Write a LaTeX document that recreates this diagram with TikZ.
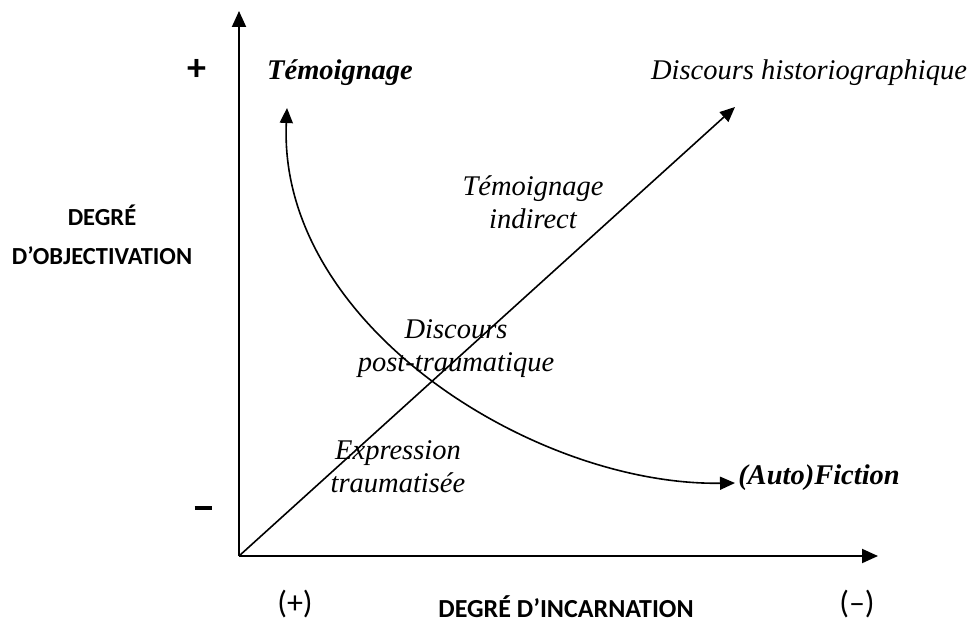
\documentclass[tikz,border=0pt]{standalone}
\usepackage{fontspec}
\setmainfont{Liberation Serif}
\newfontfamily\carlito{Carlito}
\usetikzlibrary{arrows.meta}
\tikzset{
  axisline/.style={line width=1.9pt, -{Triangle[length=16pt,width=14pt]}},
  flowline/.style={line width=1.6pt, -{Triangle[length=15pt,width=13pt]}},
  curveline/.style={line width=1.6pt, {Triangle[length=15pt,width=13pt]}-{Triangle[length=15pt,width=13pt]}},
  serif/.style={inner sep=0pt, align=center, font=\fontsize{28.5}{33}\selectfont\itshape},
  serifbold/.style={inner sep=0pt, font=\fontsize{28.5}{33}\selectfont\bfseries\itshape},
  sanslabel/.style={inner sep=0pt, align=center, font=\carlito\fontsize{24.5}{39}\selectfont\bfseries},
  incarnlabel/.style={inner sep=0pt, font=\carlito\fontsize{26}{30}\selectfont\bfseries},
  signlabel/.style={inner sep=0pt, font=\carlito\fontsize{32}{36}\selectfont},
  signbold/.style={inner sep=0pt, font=\carlito\fontsize{38}{40}\selectfont\bfseries}
}
\begin{document}
\begin{tikzpicture}[x=1pt,y=-1pt]
\useasboundingbox (0,0) rectangle (973,623);
% coordinates
\coordinate (o) at (239,556);
\coordinate (ytip) at (239,11);
\coordinate (xtip) at (878,556);
\coordinate (dtip) at (735,107);
\coordinate (cstart) at (287,108);
\coordinate (cend) at (735,483);
% axes
\draw[axisline] (o) -- (ytip);
\draw[axisline] (o) -- (xtip);
% diagonal
\draw[flowline] (o) -- (dtip);
% curve
\draw[curveline] (cend) .. controls (535,486) and (277,325) .. (cstart);
% labels
\node[signbold] (plus) at (197,70) {+};
\node (minus) at (203,508) {\rule{17pt}{3.4pt}};
\node[serifbold] (temoin) at (340,73) {Témoignage};
\node[serif] (hist) at (809,73) {Discours historiographique};
\node[serif] (indir) at (533,202) {Témoignage\\indirect};
\node[serif] (post) at (456,349) {Discours\\post-traumatique};
\node[serif] (expr) at (398,467) {Expression\\traumatisée};
\node[serifbold] (fict) at (819,478) {(Auto)Fiction};
\node[sanslabel] (objv) at (102,235) {DEGRÉ\\D’OBJECTIVATION};
\node[incarnlabel] (incarn) at (566,607) {DEGRÉ D’INCARNATION};
\node[signlabel] (pp) at (295,604) {(+)};
\node[signlabel] (pm) at (857,604) {(–)};
\end{tikzpicture}
\end{document}
